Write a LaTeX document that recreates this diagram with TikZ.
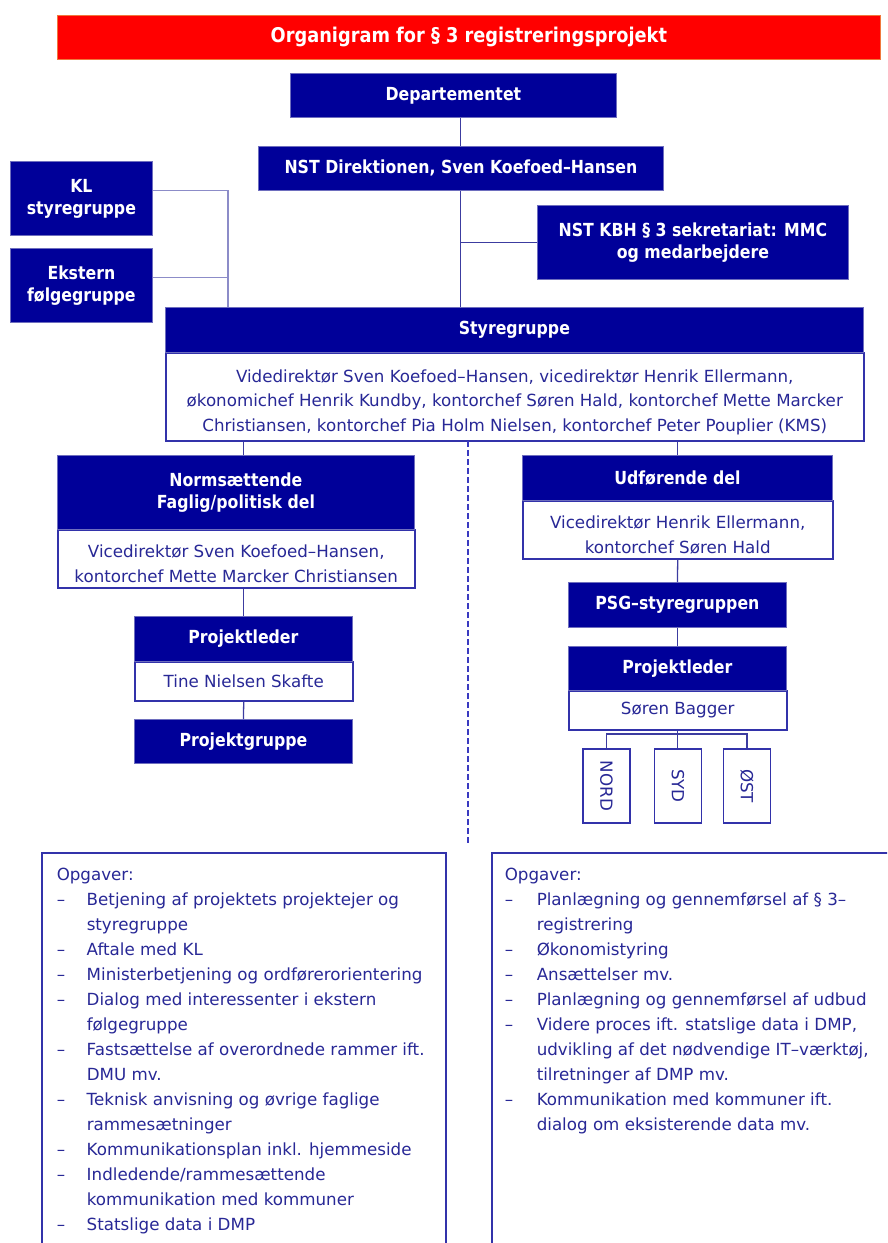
\documentclass[tikz,border=0pt]{standalone}
\usepackage{fontspec}
\setmainfont{DejaVu Sans}
\newfontfamily\hdfam{DejaVu Sans}[FakeStretch=0.875]
\definecolor{navy}{RGB}{0,0,153}
\definecolor{hdrb}{RGB}{110,110,190}
\definecolor{bodb}{RGB}{50,50,170}
\definecolor{tc}{RGB}{40,40,150}
\definecolor{conn}{RGB}{60,60,160}
\definecolor{connl}{RGB}{140,140,200}
\definecolor{titleb}{RGB}{240,120,60}
\definecolor{dashc}{RGB}{58,58,192}
\newcommand{\hdf}{\hdfam\bfseries\fontsize{18}{22}\selectfont}
\newcommand{\bdf}{\fontsize{16.7}{24.5}\selectfont}
\newcommand{\lsf}{\fontsize{16.7}{25}\selectfont}
\newcommand{\dn}{\rule{0pt}{23pt}}
\begin{document}
\begin{tikzpicture}[x=1pt,y=-1pt,
  hdr/.style={draw=hdrb, line width=0.8pt, fill=navy, text=white, font=\hdf, align=center, inner sep=0pt, anchor=north west},
  bod/.style={draw=bodb, line width=1.5pt, fill=white, text=tc, font=\bdf, align=center, inner sep=0pt, anchor=north west},
  cn/.style={draw=conn, line width=1.3pt},
  cnl/.style={draw=connl, line width=1.3pt},
  listbox/.style={draw=bodb, line width=1.5pt, fill=white, text=tc, font=\lsf, anchor=north west, inner ysep=10pt}
]
\useasboundingbox (0,0) rectangle (887,1243);
\clip (0,0) rectangle (887,1243);

% title
\node[hdr, fill=red, draw=titleb, minimum width=823pt, minimum height=44pt,
      font={\hdfam\bfseries\fontsize{20.3}{24}\selectfont}] (title) at (57,15) {Organigram for § 3 registreringsprojekt};

% top chain
\node[hdr, minimum width=326pt, minimum height=44pt] (dep) at (290,73) {Departementet};
\node[hdr, minimum width=405pt, minimum height=44pt] (nst) at (258,146) {NST Direktionen, Sven Koefoed–Hansen};
\node[hdr, minimum width=142pt, minimum height=74pt] (kl) at (10,161) {KL\\styregruppe};
\node[hdr, minimum width=142pt, minimum height=74pt] (ek) at (10,248) {Ekstern\\følgegruppe};
\node[hdr, minimum width=311pt, minimum height=74pt] (kbh) at (537,205) {NST KBH § 3 sekretariat: MMC\\og medarbejdere};

% Styregruppe
\node[bod, minimum width=698pt, minimum height=88pt] (styB) at (165,352)
  {\dn Videdirektør Sven Koefoed–Hansen, vicedirektør Henrik Ellermann,\\
   økonomichef Henrik Kundby, kontorchef Søren Hald, kontorchef Mette Marcker\\
   Christiansen, kontorchef Pia Holm Nielsen, kontorchef Peter Pouplier (KMS)};
\node[hdr, minimum width=698pt, minimum height=45pt] (styH) at (165,307) {Styregruppe};

% left branch
\node[bod, minimum width=357pt, minimum height=58pt] (normB) at (57,529)
  {\dn Vicedirektør Sven Koefoed–Hansen,\\kontorchef Mette Marcker Christiansen};
\node[hdr, minimum width=357pt, minimum height=74pt] (normH) at (57,455) {Normsættende\\Faglig/politisk del};
\node[bod, minimum width=218pt, minimum height=39pt] (pl1B) at (134,661) {Tine Nielsen Skafte};
\node[hdr, minimum width=218pt, minimum height=45pt] (pl1H) at (134,616) {Projektleder};
\node[hdr, minimum width=218pt, minimum height=44pt] (pg) at (134,719) {Projektgruppe};

% right branch
\node[bod, minimum width=310pt, minimum height=58pt] (udB) at (522,500)
  {\dn Vicedirektør Henrik Ellermann,\\kontorchef Søren Hald};
\node[hdr, minimum width=310pt, minimum height=45pt] (udH) at (522,455) {Udførende del};
\node[hdr, minimum width=218pt, minimum height=45pt] (psg) at (568,582) {PSG–styregruppen};
\node[bod, minimum width=218pt, minimum height=39pt] (pl2B) at (568,690) {Søren Bagger};
\node[hdr, minimum width=218pt, minimum height=44pt] (pl2H) at (568,646) {Projektleder};

\node[bod, anchor=center, rotate=-90, minimum width=74pt, minimum height=47pt] (nord) at (606.5,786) {NORD};
\node[bod, anchor=center, rotate=-90, minimum width=74pt, minimum height=47pt] (syd) at (678,786) {SYD};
\node[bod, anchor=center, rotate=-90, minimum width=74pt, minimum height=47pt] (ost) at (747,786) {ØST};

% task boxes
\node[listbox, inner xsep=15pt] (opg1) at (41,852) {\parbox[t][400pt][t]{374pt}{%
\begin{tabular}{@{}p{30pt}@{}l@{}}
\multicolumn{2}{@{}l@{}}{Opgaver:}\\
–& Betjening af projektets projektejer og\\
 & styregruppe\\
–& Aftale med KL\\
–& Ministerbetjening og ordførerorientering\\
–& Dialog med interessenter i ekstern\\
 & følgegruppe\\
–& Fastsættelse af overordnede rammer ift.\\
 & DMU mv.\\
–& Teknisk anvisning og øvrige faglige\\
 & rammesætninger\\
–& Kommunikationsplan inkl. hjemmeside\\
–& Indledende/rammesættende\\
 & kommunikation med kommuner\\
–& Statslige data i DMP
\end{tabular}}};

\node[listbox, inner xsep=13pt] (opg2) at (491,852) {\parbox[t][400pt][t]{390pt}{%
\begin{tabular}{@{}p{32pt}@{}l@{}}
\multicolumn{2}{@{}l@{}}{Opgaver:}\\
–& Planlægning og gennemførsel af § 3–\\
 & registrering\\
–& Økonomistyring\\
–& Ansættelser mv.\\
–& Planlægning og gennemførsel af udbud\\
–& Videre proces ift. statslige data i DMP,\\
 & udvikling af det nødvendige IT–værktøj,\\
 & tilretninger af DMP mv.\\
–& Kommunikation med kommuner ift.\\
 & dialog om eksisterende data mv.
\end{tabular}}};

% connectors
\coordinate (mainx) at (460.5,0);
\coordinate (klx) at (228,0);
\coordinate (bus) at (677,734);
\coordinate (d1) at (468,441);
\coordinate (d2) at (468,845);

\draw[cn] (dep.south -| mainx) -- (nst.north -| mainx);
\draw[cn] (nst.south -| mainx) -- (styH.north -| mainx);
\draw[cn] (kbh.west) -- (kbh.west -| mainx);
\draw[cnl] ([yshift=8pt]kl.east) -- ([yshift=8pt]kl.east -| klx) -- (styH.north -| klx);
\draw[cnl] ([yshift=8pt]ek.east) -- ([yshift=8pt]ek.east -| klx);

\draw[cn] (styB.south -| pl1H.north) -- (normH.north -| pl1H.north);
\draw[cn] (styB.south -| udH.north) -- (udH.north);
\draw[cn] (normB.south -| pl1H.north) -- (pl1H.north);
\draw[cn] (pl1B.south) -- (pg.north);
\draw[cn] (udB.south) -- (psg.north);
\draw[cn] (psg.south) -- (pl2H.north);
\draw[cn] (pl2B.south) -- (pl2B.south |- syd.west);
\draw[cn] (nord.west) -- (nord.west |- bus) -- (ost.west |- bus) -- (ost.west);

\draw[draw=dashc, line width=1.5pt, dash pattern=on 6pt off 3pt] (d1) -- (d2);
\end{tikzpicture}
\end{document}
